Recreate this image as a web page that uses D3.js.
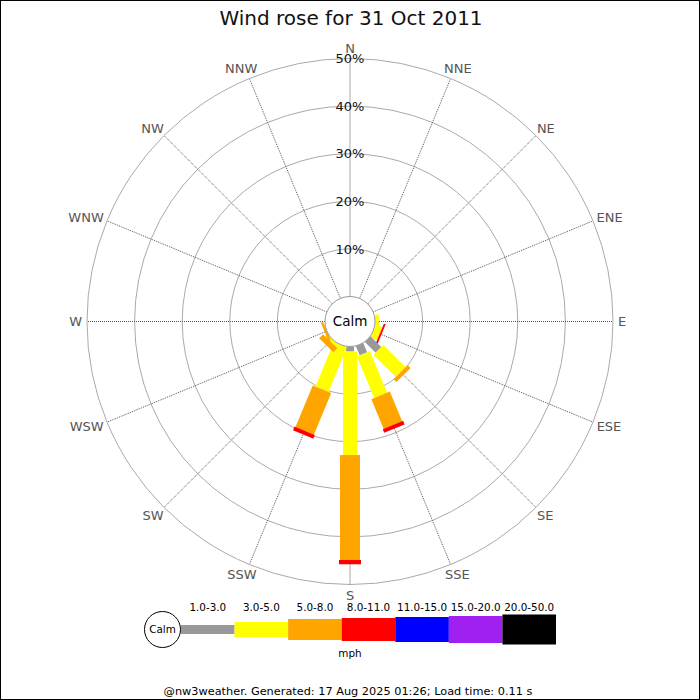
<!DOCTYPE html>
<html>
<head>
<meta charset="utf-8">
<script src="https://cdn.jsdelivr.net/npm/d3@7"></script>
<style>
  html, body { margin: 0; padding: 0; background: #fff; }
  svg { display: block; }
  text { font-family: "DejaVu Sans", sans-serif; }
</style>
</head>
<body>
<div id="chart"></div>
<script>
// ---- data ----
const title = "Wind rose for 31 Oct 2011";
const directions = ["N","NNE","NE","ENE","E","ESE","SE","SSE","S","SSW","SW","WSW","W","WNW","NW","NNW"];
const bandLabels = ["1.0-3.0","3.0-5.0","5.0-8.0","8.0-11.0","11.0-15.0","15.0-20.0","20.0-50.0"];
const bandColors = ["#999999","#ffff00","#ffa500","#ff0000","#0000ff","#a020f0","#000000"];
// percent of time per direction for each speed band (mph)
const band1to3   = [0,0,0,0,0,0,3.2,2.1,1.05,0,0,0,0,0,0,0];
const band3to5   = [0,0,0,0,0.8,1.5,6.6,9.45,21.75,10.15,0.6,0,0,0,0,0];
const band5to8   = [0,0,0,0,0,0,0.85,6.75,22.05,9.45,1.2,0.5,0,0,0,0];
const band8to11  = [0,0,0,0,0,0.4,0,0.8,0.9,0.85,0,0,0,0,0,0];
const band11to15 = [0,0,0,0,0,0,0,0,0,0,0,0,0,0,0,0];
const band15to20 = [0,0,0,0,0,0,0,0,0,0,0,0,0,0,0,0];
const band20to50 = [0,0,0,0,0,0,0,0,0,0,0,0,0,0,0,0];
const ringTicks = [10,20,30,40,50];
const ringLabels = ["10%","20%","30%","40%","50%"];
const calmLabel = "Calm";
const unitLabel = "mph";
const footer = "@nw3weather. Generated: 17 Aug 2025 01:26; Load time: 0.11 s";

const series = [band1to3, band3to5, band5to8, band8to11, band11to15, band15to20, band20to50];

// ---- layout ----
const W = 700, H = 700;
const cx = 350, cy = 321.5;
const R0 = 25, R = 263;
const bandWidths = [8,14,20,22,24,26,28];

const svg = d3.select("#chart").append("svg").attr("width", W).attr("height", H);
svg.append("rect").attr("x",0).attr("y",0).attr("width",W).attr("height",H).attr("fill","#fff");

const r = d3.scaleLinear().domain([0,50]).range([R0,R]);
const angle = d3.scalePoint().domain(directions).range([0, 360 - 22.5]);

svg.append("text").attr("x", 351).attr("y", 25).attr("text-anchor","middle")
  .attr("font-size", 20).attr("fill","#111").text(title);

const g = svg.append("g").attr("transform", `translate(${cx},${cy})`);

// rings
g.selectAll("circle.ring").data(ringTicks).join("circle")
  .attr("class","ring").attr("r", d => r(d))
  .attr("fill","none").attr("stroke","#aaaaaa").attr("stroke-width",1);

// direction lines
const rad = a => a * Math.PI / 180;
g.selectAll("line.dir").data(directions).join("line")
  .attr("class","dir")
  .attr("x1", d => R0*Math.sin(rad(angle(d))))
  .attr("y1", d => -R0*Math.cos(rad(angle(d))))
  .attr("x2", d => R*Math.sin(rad(angle(d))))
  .attr("y2", d => -R*Math.cos(rad(angle(d))))
  .attr("stroke","#555").attr("stroke-width",1).attr("stroke-dasharray","1,1");

// direction labels
const dirFont = 13, capH = 0.73*dirFont, boxH = 11.5;
directions.forEach(d => {
  const a = rad(angle(d));
  const t = g.append("text").attr("font-size", dirFont).attr("fill","#555")
    .attr("text-anchor","middle").text(d);
  const w = t.node().getComputedTextLength();
  const s = Math.sin(a), c = Math.cos(a);
  const base = R + 5;
  const xC = base*s + s*w/2;
  const yC = -(base*c + c*boxH/2);
  t.attr("x", xC).attr("y", yC + capH/2);
});

// bars
directions.forEach((d, i) => {
  const bar = g.append("g").attr("transform", `rotate(${angle(d)})`);
  let cum = 0;
  series.forEach((s, k) => {
    const v = s[i];
    if (v > 0) {
      const r1 = r(cum), r2 = r(cum + v);
      bar.append("rect")
        .attr("x", -bandWidths[k]/2).attr("width", bandWidths[k])
        .attr("y", -r2).attr("height", r2 - r1)
        .attr("fill", bandColors[k]);
    }
    cum += v;
  });
});

// ring percentage labels
g.selectAll("text.pct").data(ringTicks).join("text")
  .attr("class","pct").attr("x", 0).attr("y", d => -r(d) + 0.73*13/2)
  .attr("text-anchor","middle").attr("font-size",13).attr("fill","#111")
  .text((d,i) => ringLabels[i]);

// calm circle
g.append("circle").attr("r", R0).attr("fill","#fff").attr("stroke","#999").attr("stroke-width",1);
g.append("text").attr("x",0).attr("y", 0.73*13.5/2).attr("text-anchor","middle")
  .attr("font-size",13.5).attr("fill","#000").text(calmLabel);

// legend
const legFont = 10.4;
const legY = 629.5;
const segX = d3.scaleBand().domain(bandLabels).range([181, 556]).padding(0);
const legendH = [9,15,21,23,25,27,30];
const leg = svg.append("g");
leg.append("circle").attr("cx",162.5).attr("cy",legY).attr("r",18)
  .attr("fill","#fff").attr("stroke","#000").attr("stroke-width",1);
leg.append("text").attr("x",162.5).attr("y",legY + 0.73*legFont/2).attr("text-anchor","middle")
  .attr("font-size",legFont).attr("fill","#000").text(calmLabel);
bandLabels.forEach((b, k) => {
  leg.append("rect").attr("x", segX(b)).attr("width", segX.bandwidth())
    .attr("y", legY - legendH[k]/2).attr("height", legendH[k]).attr("fill", bandColors[k]);
  leg.append("text").attr("x", segX(b) + segX.bandwidth()/2).attr("y", 611)
    .attr("text-anchor","middle").attr("font-size",legFont).attr("fill","#000").text(b);
});
leg.append("text").attr("x",350).attr("y",657).attr("text-anchor","middle")
  .attr("font-size",legFont).attr("fill","#000").text(unitLabel);

svg.append("text").attr("x",348).attr("y",695).attr("text-anchor","middle")
  .attr("font-size",11.3).attr("fill","#000").text(footer);

// border
svg.append("rect").attr("x",0.5).attr("y",0.5).attr("width",W-1).attr("height",H-1)
  .attr("fill","none").attr("stroke","#000").attr("stroke-width",1);
</script>
</body>
</html>
